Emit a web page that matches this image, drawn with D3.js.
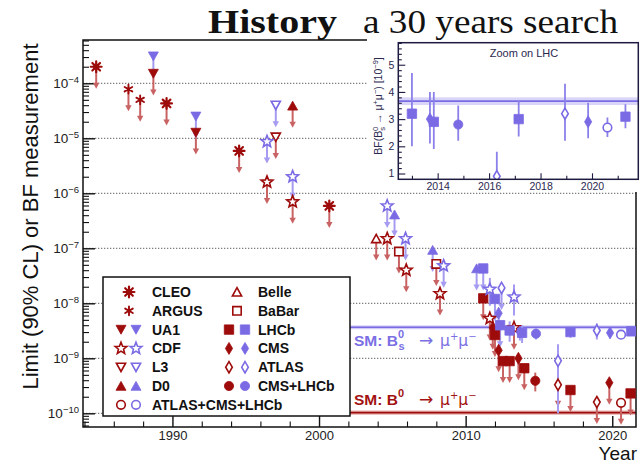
<!DOCTYPE html>
<html>
<head>
<meta charset="utf-8">
<script src="https://cdn.jsdelivr.net/npm/d3@7"></script>
<style>
  body { margin: 0; background: #fff; }
  svg { display: block; }
</style>
</head>
<body>
<svg id="chart" width="640" height="466"></svg>
<script>
// ---------- data ----------
// 90% CL upper limits: [experiment, year, limit]
const b0Limits = [
  ["CLEO", 1984.8, 2.0e-4],
  ["ARGUS", 1987.0, 7.8e-5],
  ["ARGUS", 1987.8, 5.0e-5],
  ["UA1", 1988.7, 1.5e-4],
  ["CLEO", 1989.6, 4.3e-5],
  ["UA1", 1991.6, 1.27e-5],
  ["CLEO", 1994.55, 5.9e-6],
  ["CDF", 1996.45, 1.6e-6],
  ["L3", 1997.05, 1.05e-5],
  ["D0", 1998.2, 3.9e-5],
  ["CDF", 1998.2, 7.0e-7],
  ["CLEO", 2000.7, 5.9e-7],
  ["Belle", 2003.9, 1.5e-7],
  ["CDF", 2004.65, 1.5e-7],
  ["BaBar", 2005.45, 8.7e-8],
  ["CDF", 2005.95, 4.0e-8],
  ["BaBar", 2008.0, 5.2e-8],
  ["CDF", 2008.25, 1.5e-8],
  ["LHCb", 2011.2, 1.23e-8],
  ["CDF", 2011.65, 5.3e-9],
  ["CMS", 2011.85, 3.6e-9],
  ["LHCb", 2012.0, 2.65e-9],
  ["CMS", 2012.25, 1.4e-9],
  ["LHCb", 2012.55, 8.9e-10],
  ["LHCb", 2013.0, 8.9e-10],
  ["CDF", 2013.3, 3.6e-9],
  ["CMS", 2013.6, 1.0e-9],
  ["LHCb", 2014.0, 6.6e-10],
  ["ATLAS", 2016.3, 3.3e-10],
  ["LHCb", 2017.15, 2.65e-10],
  ["ATLAS", 2018.95, 1.6e-10],
  ["CMS", 2019.8, 3.6e-10],
  ["ATLAS+CMS+LHCb", 2020.6, 1.55e-10],
  ["LHCb", 2021.25, 2.3e-10]
];

const bsLimits = [
  ["UA1", 1988.7, 3.1e-4],
  ["UA1", 1991.6, 2.5e-5],
  ["CDF", 1996.45, 8.7e-6],
  ["L3", 1997.05, 4.0e-5],
  ["CDF", 1998.2, 2.0e-6],
  ["CDF", 2004.65, 5.9e-7],
  ["D0", 2005.15, 4.1e-7],
  ["CDF", 2005.9, 1.5e-7],
  ["D0", 2007.75, 9.3e-8],
  ["CDF", 2008.5, 4.8e-8],
  ["D0", 2010.75, 4.3e-8],
  ["LHCb", 2011.2, 4.3e-8],
  ["LHCb", 2012.0, 1.2e-8],
  ["ATLAS", 2012.45, 1.9e-8],
  ["CMS", 2012.25, 6.6e-9],
  ["LHCb", 2012.35, 4.0e-9]
];

// branching-fraction measurements in units of 1e-9: [experiment, year, value, +err, -err]
const bsMeasurements = [
  ["CDF", 2011.65, 18, 11, 9],
  ["LHCb", 2013.0, 3.2, 1.5, 1.2],
  ["CDF", 2013.3, 13, 9, 7],
  ["CMS", 2013.7, 3.0, 1.0, 0.9],
  ["LHCb", 2013.85, 2.9, 1.1, 1.0],
  ["CMS+LHCb", 2014.8, 2.8, 0.7, 0.6],
  ["ATLAS", 2016.3, 0.9, 0.9, 0.8],
  ["LHCb", 2017.15, 3.0, 0.67, 0.64],
  ["ATLAS", 2018.95, 3.2, 1.1, 1.0],
  ["CMS", 2019.85, 2.9, 0.7, 0.6],
  ["ATLAS+CMS+LHCb", 2020.6, 2.69, 0.37, 0.35],
  ["LHCb", 2021.3, 3.09, 0.46, 0.43]
];

const b0Measurements = [
  ["CMS+LHCb", 2014.75, 0.39, 0.16, 0.14]
];

// Standard Model predictions (units of 1e-9): [value, error]
const smBs = [3.66, 0.14];
const smB0 = [0.103, 0.005];
const smFromYear = 2002.1;

// axis ticks
const yearTicks = [1990, 2000, 2010, 2020];
const yearMinorTicks = [1984, 1986, 1988, 1992, 1994, 1996, 1998, 2002, 2004, 2006, 2008, 2012, 2014, 2016, 2018];
const decadeExponents = [-10, -9, -8, -7, -6, -5, -4];
const insetYearTicks = [2014, 2016, 2018, 2020];
const insetYearMinorTicks = [2013, 2015, 2017, 2019, 2021];
const insetValueTicks = [1, 2, 3, 4, 5];

// legend rows: [label, marker experiment, colours]
const legendLeft = [
  ["CLEO", "CLEO", ["b0"]],
  ["ARGUS", "ARGUS", ["b0"]],
  ["UA1", "UA1", ["b0", "bs"]],
  ["CDF", "CDF", ["b0", "bs"]],
  ["L3", "L3", ["b0", "bs"]],
  ["D0", "D0", ["b0", "bs"]],
  ["ATLAS+CMS+LHCb", "ATLAS+CMS+LHCb", ["b0", "bs"]]
];
const legendRight = [
  ["Belle", "Belle", ["b0"]],
  ["BaBar", "BaBar", ["b0"]],
  ["LHCb", "LHCb", ["b0", "bs"]],
  ["CMS", "CMS", ["b0", "bs"]],
  ["ATLAS", "ATLAS", ["b0", "bs"]],
  ["CMS+LHCb", "CMS+LHCb", ["b0", "bs"]]
];

// ---------- styles ----------
const SANS = "'Liberation Sans', Arial, sans-serif";
const SERIF = "'Liberation Serif', 'Times New Roman', serif";
const SYMBOL = "'DejaVu Sans', sans-serif";
const COL = {
  b0: { mark: "#9e0b0b", line: "#c96363", text: "#a31212" },
  bs: { mark: "#7a6be4", line: "#a59bf0", text: "#7b6fe4" }
};
const ARROW_LEN = 22;

const svg = d3.select("#chart");
svg.append("rect").attr("width", 640).attr("height", 466).attr("fill", "#fff");

// ---------- scales ----------
const x = d3.scaleLinear().domain([1983.9, 2021.62]).range([83, 636]);
const y = d3.scaleLog().domain([Math.pow(10, -10.249), Math.pow(10, -3.213)]).range([427, 40]);
const [X0, X1] = x.range();
const [Y0, Y1] = y.range(); // Y0 bottom, Y1 top

// ---------- marker shapes ----------
function starPath(ro, ri, n) {
  let p = "";
  for (let i = 0; i < 2 * n; i++) {
    const a = -Math.PI / 2 + i * Math.PI / n;
    const r = i % 2 ? ri : ro;
    p += (i ? "L" : "M") + (r * Math.cos(a)).toFixed(2) + "," + (r * Math.sin(a)).toFixed(2);
  }
  return p + "Z";
}
function spokes(r, n) {
  let p = "";
  for (let k = 0; k < n; k++) {
    const a = k * Math.PI / n + Math.PI / 2;
    p += `M${(r * Math.cos(a)).toFixed(2)},${(r * Math.sin(a)).toFixed(2)}L${(-r * Math.cos(a)).toFixed(2)},${(-r * Math.sin(a)).toFixed(2)}`;
  }
  return p;
}
const circ = r => `M${r},0A${r},${r} 0 1,1 ${-r},0A${r},${r} 0 1,1 ${r},0Z`;

const shapes = {
  "UA1": { d: "M-5,-4.3L5,-4.3L0,4.6Z", fill: true },
  "L3": { d: "M-4.6,-4L4.6,-4L0,4.3Z", fill: false },
  "D0": { d: "M-5,4.3L5,4.3L0,-4.6Z", fill: true },
  "Belle": { d: "M-4.6,4L4.6,4L0,-4.3Z", fill: false },
  "BaBar": { d: "M-4.2,-4.2H4.2V4.2H-4.2Z", fill: false },
  "LHCb": { d: "M-4.7,-4.7H4.7V4.7H-4.7Z", fill: true },
  "CMS": { d: "M0,-6L3.6,0L0,6L-3.6,0Z", fill: true },
  "ATLAS": { d: "M0,-5.6L3.3,0L0,5.6L-3.3,0Z", fill: false },
  "CMS+LHCb": { d: circ(4.6), fill: true },
  "ATLAS+CMS+LHCb": { d: circ(4.3), fill: false },
  "CDF": { d: starPath(6.2, 2.7, 5), fill: false }
};

function addMarker(g, exp, c, cx, cy) {
  const m = g.append("g").attr("transform", `translate(${cx},${cy})`);
  if (exp === "CLEO") {
    m.append("path").attr("d", spokes(5.4, 4)).attr("stroke", c.mark).attr("stroke-width", 2.2).attr("stroke-linecap", "round");
    m.append("path").attr("d", circ(3)).attr("fill", c.mark);
  } else if (exp === "ARGUS") {
    m.append("path").attr("d", spokes(4.4, 3)).attr("stroke", c.mark).attr("stroke-width", 1.9).attr("stroke-linecap", "round");
    m.append("path").attr("d", circ(1.6)).attr("fill", c.mark);
  } else {
    const s = shapes[exp];
    m.append("path").attr("d", s.d)
      .attr("fill", s.fill ? c.mark : "#fff")
      .attr("stroke", c.mark)
      .attr("stroke-width", s.fill ? 0.8 : 1.6)
      .attr("stroke-linejoin", "miter");
  }
  return m;
}

// ---------- main frame, grid and axes ----------
svg.append("defs").append("clipPath").attr("id", "plotClip")
  .append("rect").attr("x", X0).attr("y", Y1).attr("width", X1 - X0).attr("height", Y0 - Y1);

const grid = svg.append("g");
decadeExponents.forEach(e => {
  grid.append("line")
    .attr("x1", X0).attr("x2", X1)
    .attr("y1", y(Math.pow(10, e))).attr("y2", y(Math.pow(10, e)))
    .attr("stroke", "#7d7d7d").attr("stroke-width", 1.3).attr("stroke-dasharray", "1.3,1.7");
});

// SM prediction bands
const smLayer = svg.append("g").attr("clip-path", "url(#plotClip)");
[[smBs, COL.bs, "#cfcaf6"], [smB0, COL.b0, "#e6b3b3"]].forEach(([sm, c, band]) => {
  const hi = y((sm[0] + sm[1]) * 1e-9), lo = y((sm[0] - sm[1]) * 1e-9);
  smLayer.append("rect").attr("x", x(smFromYear)).attr("width", X1 - x(smFromYear))
    .attr("y", hi - 1).attr("height", lo - hi + 2).attr("fill", band);
  smLayer.append("line").attr("x1", x(smFromYear)).attr("x2", X1)
    .attr("y1", y(sm[0] * 1e-9)).attr("y2", y(sm[0] * 1e-9))
    .attr("stroke", c.mark).attr("stroke-width", 1.6);
});

// axes
const axisColor = "#111";
const xMinor = svg.append("g").attr("transform", `translate(0,${Y0})`)
  .call(d3.axisBottom(x).tickValues(yearMinorTicks).tickSizeInner(-5.5).tickSizeOuter(0).tickFormat(""));
const xMajor = svg.append("g").attr("transform", `translate(0,${Y0})`)
  .call(d3.axisBottom(x).tickValues(yearTicks).tickSizeInner(-11).tickSizeOuter(0).tickPadding(4).tickFormat(d3.format("d")));
xMajor.selectAll("text").attr("font-family", SANS).attr("font-size", 13).attr("fill", "#222");

const minorVals = [];
for (let e = -11; e <= -4; e++) for (let m = 2; m <= 9; m++) {
  const v = m * Math.pow(10, e);
  if (v > y.domain()[0] && v < y.domain()[1]) minorVals.push(v);
}
const yMinor = svg.append("g").attr("transform", `translate(${X0},0)`)
  .call(d3.axisLeft(y).tickValues(minorVals).tickSizeInner(-6).tickSizeOuter(0).tickFormat(""));
const yMajor = svg.append("g").attr("transform", `translate(${X0},0)`)
  .call(d3.axisLeft(y).tickValues(decadeExponents.map(e => Math.pow(10, e))).tickSizeInner(-12).tickSizeOuter(0).tickPadding(4).tickFormat(""));
yMajor.selectAll(".tick text").each(function (d) {
  const t = d3.select(this).attr("font-family", SANS).attr("fill", "#222").attr("font-size", 13.5);
  t.append("tspan").text("10");
  t.append("tspan").attr("font-size", 9.5).attr("dy", "-0.55em").text("\u2212" + Math.round(-Math.log10(d)));
});
[xMinor, xMajor, yMinor, yMajor].forEach(g => {
  g.select(".domain").remove();
  g.selectAll(".tick line").attr("stroke", axisColor).attr("stroke-width", 1.1);
});
yMajor.selectAll(".tick line").attr("stroke-width", 1.4);
xMajor.selectAll(".tick line").attr("stroke-width", 1.4);

svg.append("rect").attr("x", X0).attr("y", Y1).attr("width", X1 - X0).attr("height", Y0 - Y1)
  .attr("fill", "none").attr("stroke", axisColor).attr("stroke-width", 1.5);

// ---------- data marks ----------
const data = svg.append("g").attr("clip-path", "url(#plotClip)");
const lines = data.append("g");
const marks = data.append("g");

function drawLimits(rows, c) {
  rows.forEach(([exp, yr, v]) => {
    const cx = x(yr), cy = y(v), ye = cy + ARROW_LEN;
    lines.append("line").attr("x1", cx).attr("x2", cx).attr("y1", cy).attr("y2", ye - 3)
      .attr("stroke", c.line).attr("stroke-width", 2);
    lines.append("path").attr("d", `M${cx - 3.2},${ye - 6}L${cx + 3.2},${ye - 6}L${cx},${ye}Z`).attr("fill", c.line);
  });
}
function drawMeasurements(rows, c) {
  rows.forEach(([exp, yr, v, up, dn]) => {
    const cx = x(yr);
    lines.append("line").attr("x1", cx).attr("x2", cx)
      .attr("y1", y((v + up) * 1e-9)).attr("y2", y(Math.max(v - dn, 1e-3) * 1e-9))
      .attr("stroke", c.line).attr("stroke-width", 2);
  });
}
drawLimits(b0Limits, COL.b0);
drawLimits(bsLimits, COL.bs);
drawMeasurements(bsMeasurements, COL.bs);
drawMeasurements(b0Measurements, COL.b0);

b0Limits.forEach(([exp, yr, v]) => addMarker(marks, exp, COL.b0, x(yr), y(v)));
bsLimits.forEach(([exp, yr, v]) => addMarker(marks, exp, COL.bs, x(yr), y(v)));
bsMeasurements.forEach(([exp, yr, v]) => addMarker(marks, exp, COL.bs, x(yr), y(v * 1e-9)));
b0Measurements.forEach(([exp, yr, v]) => addMarker(marks, exp, COL.b0, x(yr), y(v * 1e-9)));

// SM labels
function smLabel(c, baseline, subscript) {
  const g = svg.append("g").attr("fill", c.text).attr("font-family", SANS);
  g.append("text").attr("x", 354).attr("y", baseline).attr("font-size", 15.5).attr("font-weight", "bold").text("SM: B");
  g.append("text").attr("x", 398).attr("y", baseline - 8).attr("font-size", 11).attr("font-weight", "bold").text("0");
  if (subscript) g.append("text").attr("x", 398.5).attr("y", baseline + 4).attr("font-size", 11).attr("font-weight", "bold").text(subscript);
  g.append("text").attr("x", 419).attr("y", baseline - 0.5).attr("font-size", 17).attr("font-family", SYMBOL).text("\u2192");
  const t = g.append("text").attr("x", 440).attr("y", baseline).attr("font-size", 15.5).attr("font-family", SYMBOL);
  t.append("tspan").text("\u03bc");
  t.append("tspan").attr("font-size", 10).attr("dy", -6.5).text("+");
  t.append("tspan").attr("dy", 6.5).text("\u03bc");
  t.append("tspan").attr("font-size", 10).attr("dy", -6.5).text("\u2212");
}
smLabel(COL.bs, 346, "s");
smLabel(COL.b0, 405, null);

// ---------- legend ----------
const leg = svg.append("g");
leg.append("rect").attr("x", 103).attr("y", 277).attr("width", 247).attr("height", 139)
  .attr("fill", "#fff").attr("stroke", "#111").attr("stroke-width", 1.5);
function legendColumn(rows, textX, singleX, pairX) {
  rows.forEach(([label, exp, cols], i) => {
    const ry = 292 + i * 18.8;
    if (cols.length === 1) addMarker(leg, exp, COL[cols[0]], singleX, ry);
    else cols.forEach((k, j) => addMarker(leg, exp, COL[k], pairX[j], ry));
    leg.append("text").attr("x", textX).attr("y", ry + 5).attr("font-family", SANS)
      .attr("font-size", 14).attr("font-weight", "bold").attr("fill", "#111").text(label);
  });
}
legendColumn(legendLeft, 152, 129, [121, 136]);
legendColumn(legendRight, 258, 237, [229, 245]);

// ---------- axis titles ----------
svg.append("text").attr("transform", "translate(37.5,216.5) rotate(-90)")
  .attr("text-anchor", "middle").attr("font-family", SANS).attr("font-size", 22).attr("fill", "#111")
  .text("Limit (90% CL) or BF measurement");
svg.append("text").attr("x", 637).attr("y", 460).attr("text-anchor", "end")
  .attr("font-family", SANS).attr("font-size", 19).attr("fill", "#111").text("Year");

// ---------- inset: zoom on LHC ----------
const inset = svg.append("g");
inset.append("rect").attr("x", 367).attr("y", 39).attr("width", 273).attr("height", 153).attr("fill", "#fff");
const xi = d3.scaleLinear().domain([2012.47, 2021.8]).range([398.3, 638.3]);
const yi = d3.scaleLinear().domain([0.787, 5.81]).range([179.3, 42.7]);
const [IX0, IX1] = xi.range();
const [IY0, IY1] = yi.range();
svg.select("defs").append("clipPath").attr("id", "insetClip")
  .append("rect").attr("x", IX0).attr("y", IY1).attr("width", IX1 - IX0).attr("height", IY0 - IY1);

const inPlot = inset.append("g").attr("clip-path", "url(#insetClip)");
inPlot.append("rect").attr("x", IX0).attr("width", IX1 - IX0)
  .attr("y", yi(smBs[0] + smBs[1])).attr("height", yi(smBs[0] - smBs[1]) - yi(smBs[0] + smBs[1]))
  .attr("fill", "#d9d5f8");
inPlot.append("line").attr("x1", IX0).attr("x2", IX1).attr("y1", yi(smBs[0])).attr("y2", yi(smBs[0]))
  .attr("stroke", COL.bs.mark).attr("stroke-width", 1.8);

const lhc = bsMeasurements.filter(r => r[0] !== "CDF");
lhc.forEach(([exp, yr, v, up, dn]) => {
  inPlot.append("line").attr("x1", xi(yr)).attr("x2", xi(yr)).attr("y1", yi(v + up)).attr("y2", yi(v - dn))
    .attr("stroke", "#8b80ea").attr("stroke-width", 1.8);
});
lhc.forEach(([exp, yr, v]) => addMarker(inPlot, exp, COL.bs, xi(yr), yi(v)));

const insetInk = "#1d1b3f";
const ixMinor = inset.append("g").attr("transform", `translate(0,${IY0})`)
  .call(d3.axisBottom(xi).tickValues(insetYearMinorTicks).tickSizeInner(-3.5).tickSizeOuter(0).tickFormat(""));
const ixMajor = inset.append("g").attr("transform", `translate(0,${IY0})`)
  .call(d3.axisBottom(xi).tickValues(insetYearTicks).tickSizeInner(-6).tickSizeOuter(0).tickPadding(3).tickFormat(d3.format("d")));
const yiMinorVals = d3.range(1, 5.81, 0.2).filter(v => Math.abs(v - Math.round(v)) > 1e-6);
const iyMinor = inset.append("g").attr("transform", `translate(${IX0},0)`)
  .call(d3.axisLeft(yi).tickValues(yiMinorVals).tickSizeInner(-3.5).tickSizeOuter(0).tickFormat(""));
const iyMajor = inset.append("g").attr("transform", `translate(${IX0},0)`)
  .call(d3.axisLeft(yi).tickValues(insetValueTicks).tickSizeInner(-7).tickSizeOuter(0).tickPadding(4).tickFormat(d3.format("d")));
[ixMinor, ixMajor, iyMinor, iyMajor].forEach(g => {
  g.select(".domain").remove();
  g.selectAll(".tick line").attr("stroke", insetInk).attr("stroke-width", 1.1);
  g.selectAll("text").attr("font-family", SANS).attr("font-size", 10.5).attr("fill", "#2a2850");
});
inset.append("rect").attr("x", IX0).attr("y", IY1).attr("width", IX1 - IX0).attr("height", IY0 - IY1)
  .attr("fill", "none").attr("stroke", insetInk).attr("stroke-width", 1.5);

inset.append("text").attr("x", 524).attr("y", 56.5).attr("text-anchor", "middle")
  .attr("font-family", SANS).attr("font-size", 11).attr("fill", "#2a2850").text("Zoom on LHC");

const iyl = inset.append("text").attr("transform", "translate(382,106) rotate(-90)")
  .attr("text-anchor", "middle").attr("font-family", SANS).attr("font-size", 10.5).attr("fill", "#2a2850");
iyl.append("tspan").text("BF(B");
iyl.append("tspan").attr("font-size", 7.5).attr("dy", 2.5).text("s");
iyl.append("tspan").attr("font-size", 7.5).attr("dx", -4).attr("dy", -7).text("0");
iyl.append("tspan").attr("dy", 4.5).text(" \u2192 \u03bc");
iyl.append("tspan").attr("font-size", 7.5).attr("dy", -4.5).text("+");
iyl.append("tspan").attr("dy", 4.5).text("\u03bc");
iyl.append("tspan").attr("font-size", 7.5).attr("dy", -4.5).text("\u2212");
iyl.append("tspan").attr("dy", 4.5).text(") [10");
iyl.append("tspan").attr("font-size", 7.5).attr("dy", -4.5).text("\u22129");
iyl.append("tspan").attr("dy", 4.5).text("]");

// ---------- title ----------
svg.append("text").attr("x", 208).attr("y", 33).attr("font-family", SERIF).attr("font-weight", "bold")
  .attr("font-size", 33).attr("textLength", 129).attr("lengthAdjust", "spacingAndGlyphs").attr("fill", "#111")
  .text("History");
svg.append("text").attr("x", 363).attr("y", 33).attr("font-family", SERIF)
  .attr("font-size", 33).attr("textLength", 255).attr("lengthAdjust", "spacingAndGlyphs").attr("fill", "#111")
  .text("a 30 years search");
</script>
</body>
</html>
